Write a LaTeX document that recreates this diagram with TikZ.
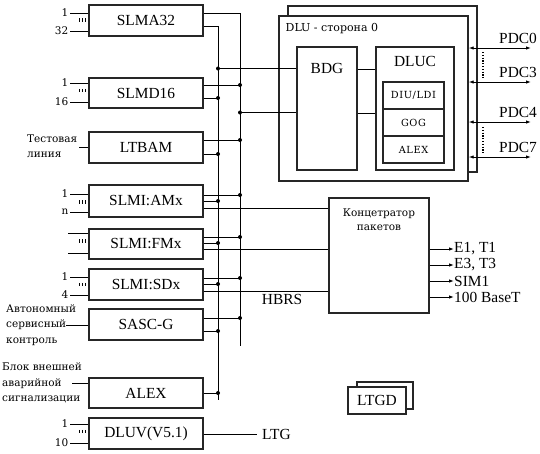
\documentclass[tikz,border=0pt]{standalone}
\usepackage{fontspec}
\setmainfont{Liberation Serif}
\newfontfamily\smallfnt{DejaVu Serif}
\newfontfamily\spacedfnt[LetterSpace=6]{DejaVu Serif}
\usetikzlibrary{arrows.meta}
\newcommand\tribar[2]{\foreach \dx in {0,2.8,5.6}{\draw[line width=1.1pt] (#1+\dx,#2-1.6) -- (#1+\dx,#2+1.6);}}
\newcommand\busout[4]{\draw[ln] (#1.east |- 0,#2) -- (#3,#2) node[dot] (#4) {};}
\begin{document}
\begin{tikzpicture}[x=1pt,y=-1pt,
  box/.style={draw=black!85, line width=1.4pt, fill=white, inner sep=0pt, font=\fontsize{15.4}{18}\selectfont},
  ln/.style={line width=0.9pt},
  dot/.style={circle, fill=black, inner sep=0pt, minimum size=4pt},
  lbl/.style={font=\fontsize{15.4}{18}\selectfont, inner sep=0pt},
  sm/.style={font=\smallfnt\fontsize{10.5}{16}\selectfont, inner sep=1.5pt},
  smb/.style={font=\smallfnt\fontsize{10.5}{16.5}\selectfont, inner sep=0pt, align=left},
  inb/.style={box, font=\spacedfnt\fontsize{9.8}{11}\selectfont, minimum width=61pt, minimum height=27pt},
  arr/.style={ln, -{Latex[length=5pt,width=3.5pt]}},
  darr/.style={ln, {Latex[length=5pt,width=3.5pt]}-{Latex[length=5pt,width=3.5pt]}},
  pdots/.style={line width=2.4pt, dash pattern=on 1.2pt off 1.6pt},
]
\useasboundingbox (0,0) rectangle (540,453);

% ---------- DLU ----------
\node[box, minimum width=189pt, minimum height=166pt] (dluback) at (382.5,89) {};
\node[box, minimum width=189pt, minimum height=165pt] (dlu) at (373.5,98.5) {};
\node[sm, anchor=west, font=\smallfnt\fontsize{11}{13}\selectfont] (dlulbl) at (284,29) {DLU - сторона 0};
\node[box, minimum width=60pt, minimum height=123pt] (bdg) at (327,108.5) {};
\node[lbl] (bdgl) at (327,68) {BDG};
\node[box, minimum width=78pt, minimum height=123pt] (dluc) at (415,108.5) {};
\node[lbl] (dlucl) at (415,61) {DLUC};
\node[inb] (diu) at (413.5,95.5) {DIU/LDI};
\node[inb] (gog) at (413.5,122.5) {GOG};
\node[inb] (alexi) at (413.5,149.5) {ALEX};
\draw[ln] (bdg.east |- 0,69) -- (dluc.west |- 0,69);
\draw[ln] (bdg.east |- 0,113) -- (dluc.west |- 0,113);

% PDC
\foreach \y/\t/\n in {48/PDC0/p0, 82/PDC3/p3, 122/PDC4/p4, 157/PDC7/p7}{
  \coordinate (\n e) at (531,\y);
  \draw[darr] (dlu.east |- \n e) -- (\n e);
  \node[lbl, anchor=west] (\n) at (499,\y-10) {\t};
}
\draw[pdots] (483,52) -- (483,78);
\draw[pdots] (483,127) -- (483,153);

% ---------- left boxes ----------
\node[box, minimum width=114pt, minimum height=31pt] (slma) at (146,20.5) {SLMA32};
\node[box, minimum width=114pt, minimum height=30pt] (slmd) at (146,93) {SLMD16};
\node[box, minimum width=114pt, minimum height=31pt] (ltbam) at (146,147.5) {LTBAM};
\node[box, minimum width=114pt, minimum height=32pt] (ami) at (146,201) {SLMI:AMx};
\node[box, minimum width=114pt, minimum height=30pt] (fmi) at (146,244) {SLMI:FMx};
\node[box, minimum width=114pt, minimum height=31pt] (sdi) at (146,284.5) {SLMI:SDx};
\node[box, minimum width=114pt, minimum height=31pt] (sasc) at (146,324.5) {SASC-G};
\node[box, minimum width=114pt, minimum height=30pt] (alex) at (146,393) {ALEX};
\node[box, minimum width=114pt, minimum height=31pt] (dluv) at (146,433.5) {DLUV(V5.1)};

% inputs
\foreach \b/\ya/\yb/\ta/\tb/\n in {slma/13/31/1/32/a, slmd/83/102/1/16/b, ami/194/212/1/n/c, sdi/277/295/1/4/d, dluv/424/443/1/10/e}{
  \node[sm, anchor=east] (\n1) at (70,\ya) {\ta};
  \node[sm, anchor=east] (\n2) at (70,\yb) {\tb};
  \draw[ln] (\n1.east) -- (\b.west |- \n1);
  \draw[ln] (\n2.east) -- (\b.west |- \n2);
}
\coordinate (f1) at (68,233); \coordinate (f2) at (68,253);
\draw[ln] (f1) -- (fmi.west |- f1);
\draw[ln] (f2) -- (fmi.west |- f2);
\tribar{79.5}{20}
\tribar{79.5}{90.5}
\tribar{79.5}{202}
\tribar{79.5}{241}
\tribar{79.5}{284.5}
\tribar{79.5}{431.5}

\node[smb, anchor=west] (test) at (27,146) {Тестовая\\[-1pt]линия};
\draw[ln] (79,147) -- (ltbam.west |- 0,147);
\node[smb, anchor=west] (auto) at (6,325) {Автономный\\[-1pt]сервисный\\[-1pt]контроль};
\draw[ln] (66,325) -- (sasc.west |- 0,325);
\node[smb, anchor=west] (blok) at (2,383) {Блок внешней\\[-1pt]аварийной\\[-1pt]сигнализации};
\draw[ln] (72,383) -- (alex.west |- 0,383);

% ---------- bus ----------
\coordinate (rtop) at (240,13); \coordinate (rbot) at (240,346);
\coordinate (ltop) at (218,26); \coordinate (lbot) at (218,400);
\draw[ln] (slma.east |- rtop) -- (rtop) -- (rbot);
\draw[ln] (slma.east |- ltop) -- (ltop) -- (lbot);

\node[dot] (j1) at (218,68.5) {};
\draw[ln] (j1) -- (bdg.west |- j1);
\busout{slmd}{85}{240}{j2}
\busout{slmd}{98}{218}{j3}
\node[dot] (j4) at (240,112.5) {};
\draw[ln] (j4) -- (bdg.west |- j4);
\busout{ltbam}{140}{240}{j5}
\busout{ltbam}{154}{218}{j6}
\busout{ami}{195}{240}{j7}
\busout{ami}{201}{218}{j8}
\busout{fmi}{237}{240}{j9}
\busout{fmi}{243}{218}{j10}
\busout{sdi}{278}{240}{j11}
\busout{sdi}{284}{218}{j12}
\busout{sasc}{318}{240}{j13}
\busout{sasc}{331}{218}{j14}
\busout{alex}{393}{218}{j15}

% ---------- concentrator ----------
\node[box, minimum width=100pt, minimum height=115pt] (conc) at (379,255.5) {};
\node[sm, align=center, inner sep=0pt, font=\smallfnt\fontsize{10.5}{15}\selectfont] (concl) at (379,220) {Концетратор\\[-1pt]пакетов};
\draw[ln] (ami.east |- 0,208) -- (conc.west |- 0,208);
\draw[ln] (fmi.east |- 0,249) -- (conc.west |- 0,249);
\draw[ln] (sdi.east |- 0,291) -- (conc.west |- 0,291);
\node[lbl] (hbrs) at (282,299) {HBRS};

\foreach \y/\t/\n in {249/{E1, T1}/o1, 265/{E3, T3}/o2, 281/SIM1/o3, 297/100 BaseT/o4}{
  \node[lbl, anchor=west] (\n) at (454,\y) {\t};
  \draw[arr] (conc.east |- \n.west) -- (\n.west);
}

% ---------- DLUV / LTG ----------
\node[lbl, anchor=west] (ltg) at (262,434) {LTG};
\draw[ln] (dluv.east |- 0,434) -- ([xshift=-5pt]ltg.west);

% ---------- LTGD ----------
\node[box, line width=1.1pt, minimum width=56pt, minimum height=27pt] (ltgdb) at (385,395.5) {};
\node[box, line width=1.1pt, minimum width=58pt, minimum height=27pt] (ltgd) at (377,400.5) {LTGD};
\end{tikzpicture}
\end{document}
